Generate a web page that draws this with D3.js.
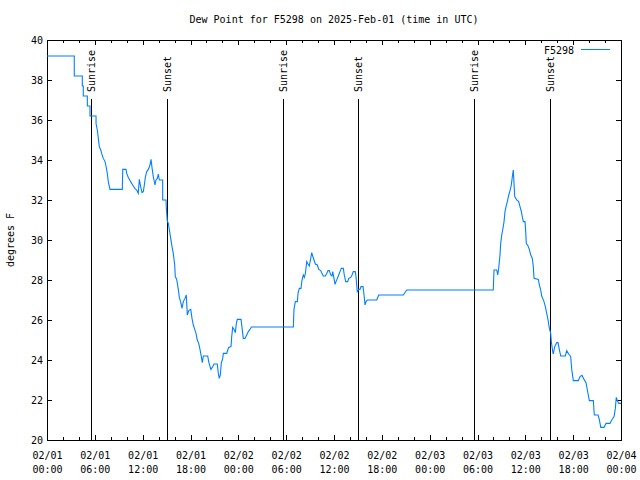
<!DOCTYPE html>
<html><head><meta charset="utf-8">
<script src="https://cdn.jsdelivr.net/npm/d3@7"></script>
<style>
html,body{margin:0;padding:0;background:#fff;}
text{font-family:"DejaVu Sans Mono","Liberation Mono",monospace;font-size:10px;fill:#000;}
</style></head><body>
<svg id="c" width="640" height="480"></svg>
<script>
// ---- data (hours since 2025-02-01 00:00 UTC, dew point in °F) ----
const hours = [0,3.42,3.42,4.43,4.43,4.55,4.55,5.06,5.06,5.39,5.39,6.15,6.15,6.31,6.44,6.56,6.74,6.86,7.06,7.28,7.40,7.56,7.69,7.90,9.45,9.50,9.91,10.0,10.20,10.41,10.62,10.83,11.04,11.25,11.45,11.58,11.75,11.92,12.08,12.21,12.33,12.51,12.71,12.92,13.05,13.17,13.33,13.55,13.67,13.84,13.96,14.09,14.51,14.51,14.93,14.97,15.09,15.22,15.34,15.52,15.68,15.84,16.02,16.09,16.27,16.47,16.60,16.81,16.93,17.10,17.31,17.47,17.60,17.78,18.03,18.19,18.35,18.53,18.69,18.85,19.03,19.19,19.36,19.48,19.61,20.16,20.28,20.45,20.57,20.79,20.95,21.36,21.49,21.61,21.74,21.86,22.04,22.12,22.54,22.67,22.79,23.08,23.17,23.29,23.46,23.62,23.75,23.87,24.34,24.46,24.62,24.84,25.05,25.25,25.46,25.63,30.90,30.98,31.15,31.40,31.49,31.65,31.86,31.99,32.15,32.28,32.40,32.58,32.74,32.90,33.08,33.20,33.33,33.49,33.66,33.91,34.08,34.33,34.50,34.66,34.91,35.09,35.25,35.41,35.59,35.75,35.84,36.0,36.13,36.25,36.42,36.59,36.75,36.92,37.17,37.29,37.47,37.72,37.85,38.10,38.26,38.42,38.67,38.76,38.85,38.92,39.10,39.26,39.39,39.64,39.77,39.89,40.02,40.18,41.36,41.61,44.70,45.12,55.98,56.07,56.41,56.54,56.66,56.82,56.91,57.04,57.16,57.33,57.45,57.58,57.74,57.92,58.08,58.24,58.37,58.49,58.58,58.67,58.92,59.17,59.33,59.50,59.62,59.75,59.96,60.05,60.12,60.34,60.50,60.68,60.88,61.00,61.09,61.63,61.76,61.93,62.05,62.18,62.34,62.51,62.68,62.85,63.01,63.18,63.26,63.44,63.51,63.69,63.94,64.10,64.26,64.44,65.02,65.19,65.44,65.69,65.82,66.02,66.65,66.86,67.11,67.36,67.61,67.78,68.03,68.53,68.65,69.12,69.28,69.46,69.87,70.12,70.62,70.84,71.13,71.29,71.41,71.54,71.71,72.0];
const dewF = [39.2,39.2,38.2,38.2,37.7,37.7,37.2,37.2,36.7,36.7,36.2,36.2,35.83,35.5,35.08,34.67,34.5,34.33,34.08,33.92,33.7,33.33,32.92,32.53,32.53,33.53,33.53,33.33,33.13,32.97,32.83,32.7,32.57,32.5,32.33,33.03,32.67,32.37,32.42,32.75,33.13,33.42,33.53,33.75,34.03,33.63,33.17,32.75,33.0,33.08,33.3,33.0,33.0,32.0,32.0,31.58,30.95,30.83,30.53,30.08,29.67,29.33,28.75,28.17,28.03,27.53,27.13,26.83,26.58,26.92,27.08,27.25,26.25,26.47,26.53,26.08,25.75,25.53,25.33,25.0,24.83,24.53,24.17,23.87,24.2,24.2,23.92,23.67,23.53,23.67,23.8,23.8,23.33,23.08,23.25,23.83,24.08,24.33,24.33,24.5,24.63,24.67,25.17,25.63,25.53,25.37,25.83,26.03,26.03,25.63,25.08,25.08,25.25,25.42,25.53,25.65,25.65,26.53,26.92,26.92,27.33,27.58,27.58,28.0,28.25,28.13,28.3,28.92,28.8,28.7,29.08,29.37,29.2,29.0,28.8,28.75,28.53,28.47,28.33,28.2,28.2,28.33,28.47,28.47,28.25,28.2,28.42,28.08,27.78,27.92,28.08,28.25,28.42,28.58,28.58,28.25,27.92,27.92,28.08,28.13,28.25,28.42,28.42,28.17,27.75,27.42,27.53,27.53,27.67,27.67,27.25,26.75,26.92,27.0,27.0,27.25,27.25,27.5,27.5,28.5,28.5,28.25,28.58,29.25,29.83,30.25,30.5,30.92,31.42,31.67,31.92,32.25,32.47,32.75,33.17,33.5,32.83,32.17,32.0,31.92,31.67,31.42,31.17,30.92,30.92,30.42,29.83,29.7,29.53,29.25,29.08,28.67,28.08,28.03,27.75,27.5,27.2,27.08,26.92,26.67,26.33,26.0,25.58,25.35,24.92,24.4,24.3,24.67,24.87,24.87,24.53,24.2,24.2,24.47,24.3,24.17,23.53,22.97,22.97,23.17,23.23,23.03,22.87,22.5,21.97,21.97,21.25,21.25,21.03,20.63,20.63,20.83,20.83,21.0,21.17,21.58,22.13,21.97,21.83,21.83];
const events = [
  {label:"Sunrise", h:5.55}, {label:"Sunset", h:15.08},
  {label:"Sunrise", h:29.55}, {label:"Sunset", h:39.05},
  {label:"Sunrise", h:53.55}, {label:"Sunset", h:63.12}
];
const yTicks = [20,22,24,26,28,30,32,34,36,38,40];
const seriesName = "F5298";
const title = "Dew Point for F5298 on 2025-Feb-01 (time in UTC)";
const yLabel = "degrees F";

const t0 = Date.UTC(2025,1,1);
const toDate = h => new Date(t0 + h*3600e3);
const data = hours.map((h,i)=>({t:toDate(h), v:dewF[i]}));

const L=47, R=621, T=40, B=440;
const svg = d3.select("#c");
const x = d3.scaleUtc().domain([toDate(0), toDate(72)]).range([L,R]);
const y = d3.scaleLinear().domain([20,40]).range([B,T]);

const fmt1 = d3.utcFormat("%m/%d"), fmt2 = d3.utcFormat("%H:%M");
const major = d3.utcHour.every(6).range(toDate(0), toDate(72.01));
const minor = d3.utcHour.every(2).range(toDate(0), toDate(72.01)).filter(d=>d.getUTCHours()%6!==0);

// minor ticks
svg.append("g").attr("transform",`translate(0,${B})`)
  .call(d3.axisBottom(x).tickValues(minor).tickSize(-3).tickFormat(""))
  .call(g=>g.select(".domain").remove());
svg.append("g").attr("transform",`translate(0,${T})`)
  .call(d3.axisTop(x).tickValues(minor).tickSize(-3).tickFormat(""))
  .call(g=>g.select(".domain").remove());
// major x
const gx = svg.append("g").attr("transform",`translate(0,${B})`)
  .call(d3.axisBottom(x).tickValues(major).tickSize(-5).tickFormat(""))
  .call(g=>g.select(".domain").remove());
gx.selectAll(".tick").each(function(d){
  const t = d3.select(this).append("text").attr("text-anchor","middle").attr("fill","#000")
    .style("font-size","10px");
  t.append("tspan").attr("x",0).attr("y",15).attr("dominant-baseline","central").text(fmt1(d));
  t.append("tspan").attr("x",0).attr("y",29).attr("dominant-baseline","central").text(fmt2(d));
});
svg.append("g").attr("transform",`translate(0,${T})`)
  .call(d3.axisTop(x).tickValues(major).tickSize(-5).tickFormat(""))
  .call(g=>g.select(".domain").remove());
// y axes
svg.append("g").attr("transform",`translate(${L},0)`)
  .call(d3.axisLeft(y).tickValues(yTicks).tickSize(-5).tickPadding(4).tickFormat(d3.format("d")))
  .call(g=>g.select(".domain").remove())
  .call(g=>g.selectAll("text").attr("dy",null).attr("dominant-baseline","central").style("font-size","10px").style("font-family",null));
svg.append("g").attr("transform",`translate(${R},0)`)
  .call(d3.axisRight(y).tickValues(yTicks).tickSize(-5).tickFormat(""))
  .call(g=>g.select(".domain").remove());
svg.selectAll(".tick line").attr("stroke","#000").attr("shape-rendering","crispEdges");

// frame
svg.append("rect").attr("x",L+0.5).attr("y",T+0.5).attr("width",R-L).attr("height",B-T)
  .attr("fill","none").attr("stroke","#000").attr("shape-rendering","crispEdges");

// events
events.forEach(e=>{
  const ex = Math.round(x(toDate(e.h)))+0.5;
  svg.append("line").attr("x1",ex).attr("x2",ex).attr("y1",99).attr("y2",B)
    .attr("stroke","#000").attr("stroke-width",1).attr("shape-rendering","crispEdges");
  svg.append("text").attr("transform",`translate(${ex},92) rotate(-90)`)
    .attr("text-anchor","start").attr("dominant-baseline","central").text(e.label);
});

// series
svg.append("path").datum(data)
  .attr("fill","none").attr("stroke","#0080ff").attr("stroke-width",1.1)
  .attr("d", d3.line().x(d=>x(d.t)).y(d=>y(d.v)));

// legend
svg.append("text").attr("x",574).attr("y",50).attr("text-anchor","end").attr("dominant-baseline","central").text(seriesName);
svg.append("line").attr("x1",581).attr("x2",610).attr("y1",49.5).attr("y2",49.5).attr("stroke","#0080ff").attr("stroke-width",1);

// title and y label
svg.append("text").attr("x",334).attr("y",19).attr("text-anchor","middle").attr("dominant-baseline","central").text(title);
svg.append("text").attr("transform","translate(10,240) rotate(-90)").attr("text-anchor","middle").attr("dominant-baseline","central").text(yLabel);
</script></body></html>
